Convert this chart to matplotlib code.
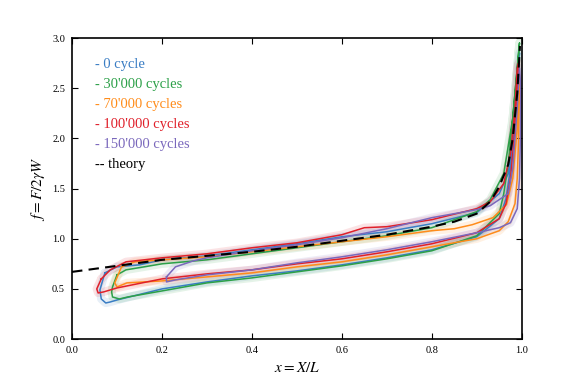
import matplotlib
matplotlib.use("Agg")
import matplotlib.pyplot as plt

plt.rcParams['font.family'] = ['Liberation Serif', 'DejaVu Serif']
plt.rcParams['mathtext.fontset'] = 'stix'

# legend labels and colours
labels = ["0 cycle", "30'000 cycles", "70'000 cycles", "100'000 cycles", "150'000 cycles"]
colors = ['#3a7dc4', '#2ca048', '#ff8c1a', '#e0202a', '#7a68bc']

# theory curve
theory_x = [0.0, 0.1, 0.2, 0.3, 0.4, 0.5, 0.6, 0.7, 0.8, 0.85, 0.9, 0.93, 0.95, 0.97, 0.98, 0.99, 0.996]
theory_y = [0.67, 0.73, 0.79, 0.83, 0.87, 0.92, 0.98, 1.04, 1.12, 1.17, 1.25, 1.37, 1.52, 1.74, 2.0, 2.45, 2.92]

# measured loops: upper branch left->right, then lower branch right->left, then tip
blue_x = [0.073, 0.10, 0.15, 0.2, 0.3, 0.4, 0.5, 0.6, 0.7, 0.8, 0.9, 0.95, 0.97, 0.98, 0.99, 0.995,
          0.99, 0.982, 0.975, 0.965, 0.95, 0.9, 0.8, 0.7, 0.6, 0.5, 0.4, 0.3, 0.2, 0.1, 0.085, 0.075, 0.065, 0.062, 0.073]
blue_y = [0.66, 0.72, 0.74, 0.79, 0.83, 0.89, 0.95, 1.02, 1.07, 1.15, 1.26, 1.45, 1.65, 2.0, 2.5, 2.85,
          2.6, 2.1, 1.7, 1.4, 1.2, 1.02, 0.89, 0.81, 0.74, 0.68, 0.63, 0.57, 0.50, 0.39, 0.37, 0.36, 0.40, 0.49, 0.66]

green_x = [0.10, 0.12, 0.2, 0.3, 0.4, 0.5, 0.6, 0.7, 0.8, 0.9, 0.93, 0.96, 0.98, 0.99, 0.995,
           0.99, 0.98, 0.97, 0.96, 0.95, 0.9, 0.8, 0.7, 0.6, 0.5, 0.4, 0.3, 0.2, 0.124, 0.105, 0.09, 0.088, 0.09, 0.10]
green_y = [0.64, 0.69, 0.75, 0.79, 0.85, 0.91, 0.97, 1.03, 1.11, 1.27, 1.39, 1.65, 2.2, 2.7, 2.95,
           2.7, 2.2, 1.75, 1.45, 1.25, 1.03, 0.88, 0.80, 0.73, 0.67, 0.61, 0.56, 0.48, 0.42, 0.40, 0.42, 0.47, 0.52, 0.64]

orange_x = [0.11, 0.14, 0.2, 0.3, 0.4, 0.5, 0.6, 0.7, 0.8, 0.85, 0.89, 0.936, 0.966, 0.98, 0.99, 0.995,
            0.993, 0.99, 0.985, 0.97, 0.95, 0.9, 0.8, 0.7, 0.6, 0.5, 0.4, 0.3, 0.2, 0.122, 0.10, 0.095, 0.11]
orange_y = [0.72, 0.77, 0.79, 0.82, 0.87, 0.92, 0.97, 1.02, 1.08, 1.10, 1.14, 1.21, 1.34, 1.6, 2.1, 2.6,
            2.0, 1.6, 1.35, 1.17, 1.08, 1.00, 0.92, 0.84, 0.77, 0.72, 0.66, 0.62, 0.58, 0.56, 0.52, 0.56, 0.72]

red_x = [0.065, 0.085, 0.12, 0.2, 0.3, 0.4, 0.5, 0.6, 0.65, 0.7, 0.8, 0.9, 0.93, 0.96, 0.975, 0.985, 0.99, 0.993,
         0.99, 0.983, 0.975, 0.965, 0.95, 0.9, 0.8, 0.7, 0.6, 0.5, 0.4, 0.3, 0.2, 0.1, 0.07, 0.058, 0.055, 0.065]
red_y = [0.60, 0.69, 0.77, 0.81, 0.85, 0.91, 0.96, 1.04, 1.11, 1.12, 1.19, 1.30, 1.37, 1.55, 1.85, 2.3, 2.7, 2.75,
         2.5, 2.0, 1.6, 1.35, 1.2, 1.06, 0.95, 0.87, 0.80, 0.75, 0.69, 0.65, 0.60, 0.51, 0.47, 0.46, 0.50, 0.60]

purple_x = [0.21, 0.23, 0.27, 0.3, 0.4, 0.5, 0.6, 0.7, 0.8, 0.9, 0.93, 0.97, 0.98, 0.99, 0.995,
            0.998, 0.997, 0.995, 0.99, 0.975, 0.95, 0.9, 0.8, 0.7, 0.6, 0.5, 0.4, 0.3, 0.23, 0.21, 0.21]
purple_y = [0.62, 0.72, 0.78, 0.81, 0.88, 0.94, 1.01, 1.10, 1.21, 1.29, 1.33, 1.45, 1.7, 2.3, 2.7,
            2.5, 2.0, 1.6, 1.3, 1.16, 1.11, 1.06, 0.97, 0.89, 0.82, 0.76, 0.69, 0.64, 0.59, 0.57, 0.62]

curves_x = [blue_x, green_x, orange_x, red_x, purple_x]
curves_y = [blue_y, green_y, orange_y, red_y, purple_y]

fig = plt.figure(figsize=(5.81, 3.88), dpi=100)
ax = fig.add_axes([0.124, 0.126, 0.774, 0.776])

# soft halo under each loop, then the line itself
for cx, cy, c in zip(curves_x, curves_y, colors):
    ax.plot(cx, cy, color=c, lw=6, alpha=0.12, solid_capstyle='round')
for cx, cy, c in zip(curves_x, curves_y, colors):
    ax.plot(cx, cy, color=c, lw=1.1)

ax.plot(theory_x, theory_y, color='black', lw=1.5, ls='--', dashes=(5, 3))

# coloured text legend
for i, (lab, c) in enumerate(zip(labels, colors)):
    ax.text(0.05, 2.74 - 0.2 * i, '- ' + lab, color=c, fontsize=10.5, va='center')
ax.text(0.05, 2.74 - 0.2 * 5, '-- theory', color='black', fontsize=10.5, va='center')

ax.set_xlim(0, 1)
ax.set_ylim(0, 3)
ax.set_xticks([0.0, 0.2, 0.4, 0.6, 0.8, 1.0])
ax.set_yticks([0.0, 0.5, 1.0, 1.5, 2.0, 2.5, 3.0])
ax.tick_params(direction='in', top=True, right=True, labelsize=7.5, length=4, width=0.8, pad=5)
for s in ax.spines.values():
    s.set_linewidth(1.2)

ax.set_xlabel(r'$x = X/L$', fontsize=11, labelpad=4)
ax.set_ylabel(r'$f = F/2\gamma W$', fontsize=11, labelpad=4)

fig.savefig('out.png', dpi=100)
